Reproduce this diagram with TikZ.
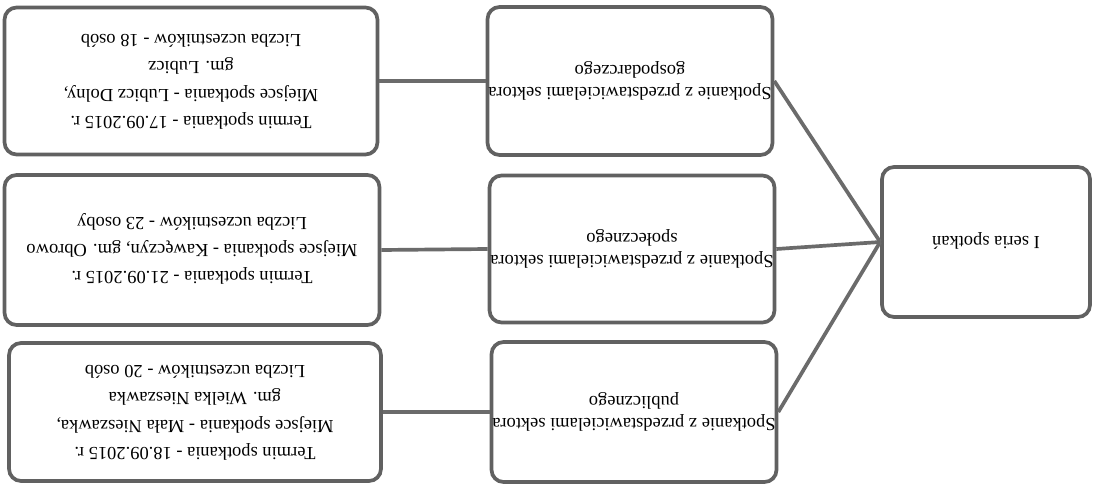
\documentclass[tikz,border=0pt]{standalone}
\usepackage{fontspec}
\setmainfont{Liberation Serif}
\usetikzlibrary{calc}

\tikzset{
  box/.style={draw=black!62, line width=2.1pt, rounded corners=0.24cm, fill=white, inner sep=0pt},
  link/.style={draw=black!58, line width=2.1pt},
}
\newcommand{\flip}[2][15.5]{\rotatebox{180}{\fontsize{10.5}{#1}\selectfont\begin{tabular}{@{}c@{}}#2\end{tabular}}}

\begin{document}
\begin{tikzpicture}[x=0.02cm,y=-0.02cm]
\useasboundingbox[fill=white] (0,0) rectangle (1094,486);

% Right box
\node[box, minimum width=4.16cm, minimum height=3cm] (seria) at (986,242) {\flip{I seria spotka\'n}};

% Middle boxes
\node[box, minimum width=5.7cm, minimum height=2.96cm] (gosp) at (630,81)
  {\flip[13]{Spotkanie z przedstawicielami sektora\\gospodarczego}};
\node[box, minimum width=5.7cm, minimum height=2.94cm] (spol) at (632,249)
  {\flip[13]{Spotkanie z przedstawicielami sektora\\spo\l{}ecznego}};
\node[box, minimum width=5.7cm, minimum height=2.8cm] (publ) at (634,412)
  {\flip[13]{Spotkanie z przedstawicielami sektora\\publicznego}};

% Left boxes
\node[box, minimum width=7.46cm, minimum height=2.94cm] (lubicz) at (191,81)
  {\flip{Termin spotkania - 17.09.2015 r.\\Miejsce spotkania - Lubicz Dolny,\\gm. Lubicz\\Liczba uczestnik\'ow - 18 os\'ob}};
\node[box, minimum width=7.5cm, minimum height=3cm] (kaw) at (192,250)
  {\flip{Termin spotkania - 21.09.2015 r.\\Miejsce spotkania - Kaw\k{e}czyn, gm. Obrowo\\Liczba uczestnik\'ow - 23 osoby}};
\node[box, minimum width=7.44cm, minimum height=2.76cm] (mala) at (195,412)
  {\flip{Termin spotkania - 18.09.2015 r.\\Miejsce spotkania - Ma\l{}a Nieszawka,\\gm. Wielka Nieszawka\\Liczba uczestnik\'ow - 20 os\'ob}};

% Connectors
\draw[link] (seria.west) -- (gosp.east);
\draw[link] (seria.west) -- (spol.east);
\draw[link] (seria.west) -- (publ.east);
\draw[link] (lubicz.east) -- (gosp.west);
\draw[link] (kaw.east) -- (spol.west);
\draw[link] (mala.east) -- (publ.west);
\end{tikzpicture}
\end{document}
